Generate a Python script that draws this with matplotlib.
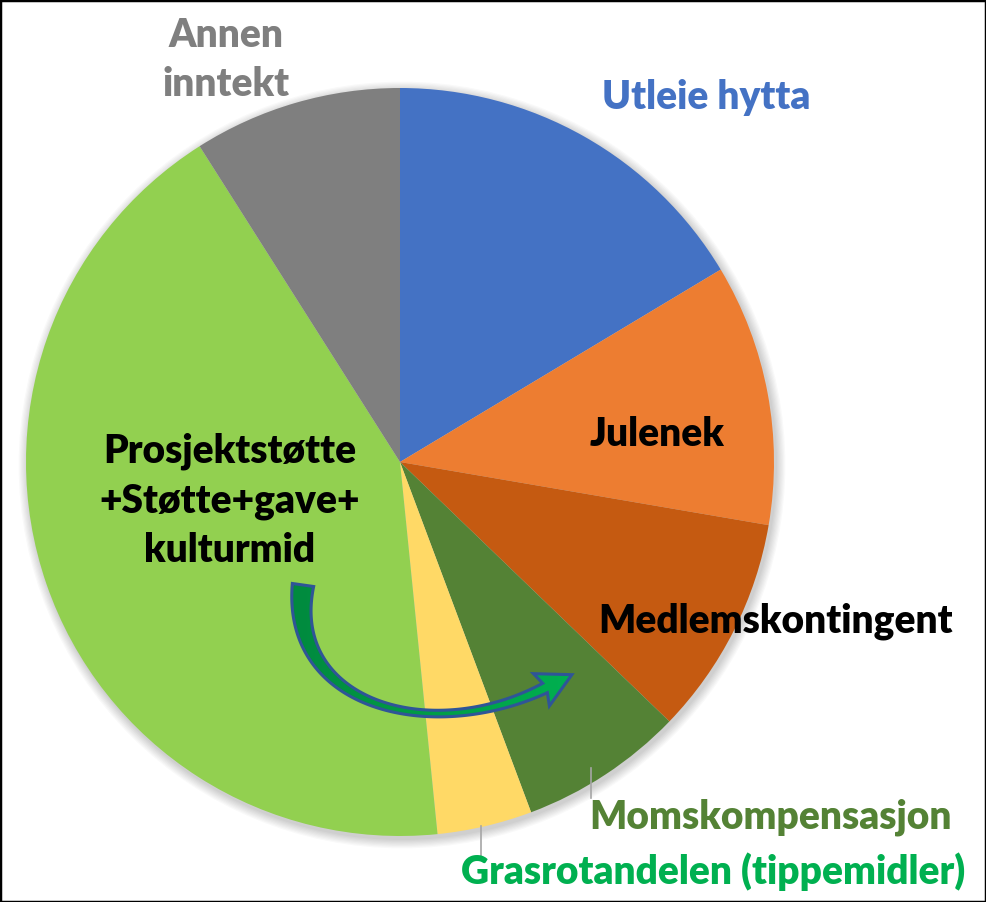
import numpy as np
import matplotlib
matplotlib.use("Agg")
import matplotlib.pyplot as plt
from matplotlib.patches import Polygon, Rectangle, Circle
from matplotlib.colors import LinearSegmentedColormap

categories = ["Utleie hytta", "Julenek", "Medlemskontingent", "Momskompensasjon",
              "Grasrotandelen (tippemidler)", "Prosjektstøtte\n+Støtte+gave+\nkulturmid",
              "Annen\ninntekt"]
values = [16.4, 11.3, 9.5, 7.1, 4.1, 42.6, 9.0]
colors = ["#4472C4", "#ED7D31", "#C55A11", "#548235", "#FFD966", "#92D050", "#7F7F7F"]
label_colors = ["#4472C4", "#000000", "#000000", "#548235", "#00B050", "#000000", "#7F7F7F"]

W, H = 986, 902
fig = plt.figure(figsize=(W / 100, H / 100), dpi=100)
ax = fig.add_axes([0, 0, 1, 1])

def P(x, y):
    return (x, H - y)

cx, cy = P(400, 462)
R = 374

# soft shadow
for i in range(8):
    ax.add_patch(Circle((cx + 2, cy - 3), R + 1 + i * 1.2, facecolor="black",
                        alpha=0.025, lw=0, zorder=0))

ax.pie(values, colors=colors, startangle=90, counterclock=False, center=(cx, cy),
       radius=R, wedgeprops=dict(linewidth=0, zorder=1), frame=True)
ax.set_xlim(0, W)
ax.set_ylim(0, H)
ax.set_aspect("auto")
ax.axis("off")

font = dict(family=["Lato", "DejaVu Sans"], fontweight="heavy", fontsize=28)

label_pos = [(706, 97), (657, 435), (776, 621), (771, 817), (713, 872), (230, 501), (226, 60)]
for lab, (x, y), c in zip(categories, label_pos, label_colors):
    ax.text(*P(x, y), lab, ha="center", va="center", color=c, linespacing=1.4,
            zorder=6, **font)

# leader lines
ax.plot(*zip(P(591, 768), P(591, 798)), color="#A6A6A6", lw=1.2, zorder=2)
ax.plot(*zip(P(481, 826), P(481, 856)), color="#A6A6A6", lw=1.2, zorder=2)

# curved arrow
t = np.linspace(0, 1, 300)[:, None]
P0 = np.array(P(303, 585)); P1 = np.array(P(286, 705)); P2 = np.array(P(430, 745)); P3 = np.array(P(545, 688))
B = (1 - t) ** 3 * P0 + 3 * (1 - t) ** 2 * t * P1 + 3 * (1 - t) * t ** 2 * P2 + t ** 3 * P3
D = 3 * (1 - t) ** 2 * (P1 - P0) + 6 * (1 - t) * t * (P2 - P1) + 3 * t ** 2 * (P3 - P2)
D = D / np.linalg.norm(D, axis=1, keepdims=True)
N = np.column_stack([-D[:, 1], D[:, 0]])
tt = t[:, 0]
w = 19 * (1 - tt) ** 2.2 + 2.5 + 8 * tt ** 3
left = B + N * (w[:, None] / 2)
right = B - N * (w[:, None] / 2)
end = B[-1]; d = D[-1]; n = N[-1]
tip = end + d * 30
hl = end + n * 18 - d * 4
hr = end - n * 18 - d * 4
pts = np.vstack([left, hl, tip, hr, right[::-1]])
poly = Polygon(pts, closed=True, facecolor="none", edgecolor="#2F5597", lw=2.2, zorder=5)
ax.add_patch(poly)
x0, x1 = pts[:, 0].min(), pts[:, 0].max()
y0, y1 = pts[:, 1].min(), pts[:, 1].max()
grad = np.linspace(0, 1, 256)[None, :]
cmap = LinearSegmentedColormap.from_list("g", ["#008A3E", "#00B050"])
im = ax.imshow(grad, extent=[x0, x1, y0, y1], cmap=cmap, aspect="auto", zorder=4,
               origin="lower")
im.set_clip_path(poly)
ax.set_xlim(0, W)
ax.set_ylim(0, H)

# border
fig.patches.append(Rectangle((0, 0), 1, 1, transform=fig.transFigure, fill=False,
                             edgecolor="black", lw=2.5))

fig.savefig("out.png", dpi=100)
